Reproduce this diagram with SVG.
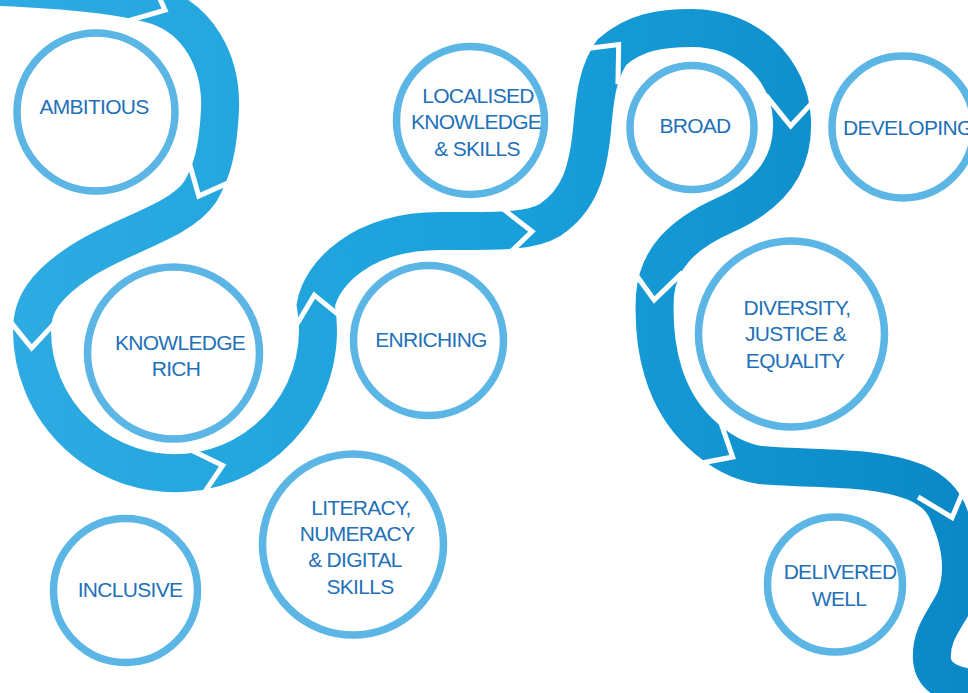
<svg xmlns="http://www.w3.org/2000/svg" xmlns:xlink="http://www.w3.org/1999/xlink" width="968" height="693" viewBox="0 0 968 693">
<style>
.ring{fill:#fff;stroke:#5bb5e5;stroke-width:7.5}
.lbl{font-family:"Liberation Sans",Arial,sans-serif;font-size:21px;fill:#2270b8;text-anchor:middle;letter-spacing:-0.7px}
.gap{fill:none;stroke:#fff;stroke-width:5;stroke-linejoin:miter}
</style>
<defs>
<linearGradient id="rib" gradientUnits="userSpaceOnUse" x1="0" y1="0" x2="968" y2="0">
<stop offset="0" stop-color="#2eabe2"/>
<stop offset="0.5" stop-color="#1aa1db"/>
<stop offset="1" stop-color="#0a88c7"/>
</linearGradient>
<polyline id="chev" class="gap" points="-20,-26 10,0 -20,26"/>
</defs>
<rect width="968" height="693" fill="#fff"/>
<g id="connectors">
<path fill="none" stroke="url(#rib)" stroke-width="38" d="M -30,-14 C 40,-12 110,-8 155,5 C 197,18 222,60 220,110 C 218,150 212,172 200,192 C 180,222 120,235 80,262 C 45,285 32,305 32,330 A 143 143 0 1 0 315.8,305.2 C 321,275 360,231 440,231 C 500,231 530,232 550,220 C 580,200 588,170 592,130 C 595,95 598,72 612,52 C 635,32 660,28 692,28 C 748,28 790,70 792,120 C 794,165 770,195 725,215 C 680,235 658,260 655,295 C 652,350 665,400 700,433 C 720,452 740,462 760,465 C 820,470 870,465 915,482 C 938,492 946,505 950,518 C 962,545 965,575 955,600 C 945,620 930,635 932,660 C 934,680 955,688 990,690"/>
<use xlink:href="#chev" transform="translate(156,6) rotate(25)"/>
<use xlink:href="#chev" transform="translate(203,187) rotate(115)"/>
<use xlink:href="#chev" transform="translate(32,338) rotate(92)"/>
<use xlink:href="#chev" transform="translate(213,468) rotate(-15)"/>
<use xlink:href="#chev" transform="translate(316,305) rotate(-100)"/>
<use xlink:href="#chev" transform="translate(522,232) rotate(-3)"/>
<use xlink:href="#chev" transform="translate(612,52) rotate(-48)"/>
<use xlink:href="#chev" transform="translate(791,116) rotate(92)"/>
<use xlink:href="#chev" transform="translate(655,290) rotate(95)"/>
<use xlink:href="#chev" transform="translate(724,452) rotate(30)"/>
<use xlink:href="#chev" transform="translate(949,508) rotate(72)"/>
</g>
<g id="ambitious"><circle class="ring" cx="96" cy="112" r="79"/><text class="lbl" x="94" y="114">AMBITIOUS</text></g>
<g id="knowledge-rich"><circle class="ring" cx="173.5" cy="353" r="86"/><text class="lbl" x="180" y="350">KNOWLEDGE</text><text class="lbl" x="176" y="376">RICH</text></g>
<g id="localised"><circle class="ring" cx="470.5" cy="120.5" r="74"/><text class="lbl" x="478" y="103">LOCALISED</text><text class="lbl" x="476" y="129">KNOWLEDGE</text><text class="lbl" x="477" y="156">&amp; SKILLS</text></g>
<g id="enriching"><circle class="ring" cx="428.5" cy="340.5" r="75"/><text class="lbl" x="431" y="347">ENRICHING</text></g>
<g id="broad"><circle class="ring" cx="692" cy="127.5" r="62"/><text class="lbl" x="695" y="133">BROAD</text></g>
<g id="developing"><circle class="ring" cx="903" cy="127" r="71"/><text class="lbl" x="843" y="135" style="text-anchor:start">DEVELOPING</text></g>
<g id="diversity"><circle class="ring" cx="791.5" cy="334" r="93"/><text class="lbl" x="797" y="315">DIVERSITY,</text><text class="lbl" x="795.5" y="341">JUSTICE &amp;</text><text class="lbl" x="795" y="368">EQUALITY</text></g>
<g id="delivered-well"><circle class="ring" cx="835" cy="584.5" r="67.5"/><text class="lbl" x="840" y="579">DELIVERED</text><text class="lbl" x="839" y="606">WELL</text></g>
<g id="inclusive"><circle class="ring" cx="125.5" cy="590.5" r="72"/><text class="lbl" x="130" y="597">INCLUSIVE</text></g>
<g id="literacy"><circle class="ring" cx="353" cy="544.5" r="90.5"/><text class="lbl" x="361" y="515">LITERACY,</text><text class="lbl" x="357" y="541">NUMERACY</text><text class="lbl" x="355" y="567">&amp; DIGITAL</text><text class="lbl" x="360" y="594">SKILLS</text></g>
</svg>
